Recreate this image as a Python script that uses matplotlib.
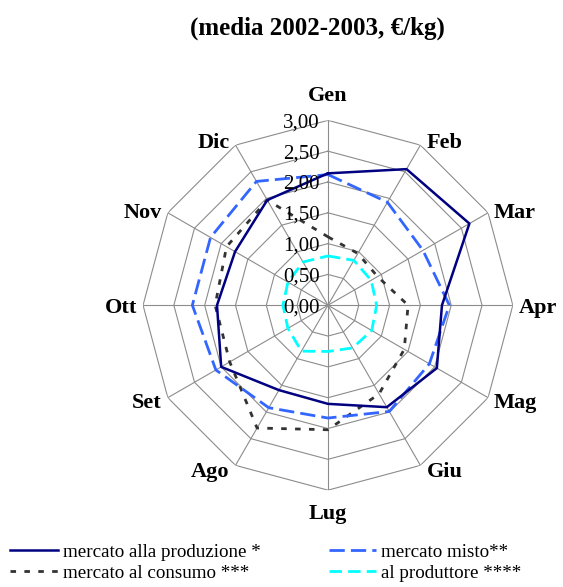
import numpy as np
import matplotlib
matplotlib.use("Agg")
import matplotlib.pyplot as plt
from matplotlib.lines import Line2D
from matplotlib.transforms import offset_copy

plt.rcParams['font.family'] = ['Liberation Serif', 'DejaVu Serif']

mesi = ['Gen', 'Feb', 'Mar', 'Apr', 'Mag', 'Giu', 'Lug', 'Ago', 'Set', 'Ott', 'Nov', 'Dic']
produzione = [2.14, 2.55, 2.65, 1.85, 2.04, 1.91, 1.60, 1.59, 2.00, 1.80, 1.74, 1.97]
misto = [2.12, 1.93, 1.78, 1.97, 1.90, 1.99, 1.83, 1.92, 2.10, 2.20, 2.20, 2.32]
consumo = [1.11, 0.97, 0.93, 1.30, 1.43, 1.66, 2.02, 2.30, 1.84, 1.83, 1.90, 1.97]
produttore = [0.80, 0.84, 0.81, 0.79, 0.82, 0.80, 0.75, 0.86, 0.75, 0.73, 0.75, 0.81]
etichette = ['mercato alla produzione *', 'mercato al consumo ***',
             'mercato misto**', 'al produttore ****']
livelli = [0.0, 0.5, 1.0, 1.5, 2.0, 2.5, 3.0]

n = len(mesi)
theta = np.arange(n) * 2 * np.pi / n
theta_c = np.append(theta, theta[0])

def chiudi(v):
    return np.append(v, v[0])

stile_prod = dict(color='#000080', lw=1.8)
stile_cons = dict(color='#333333', lw=2.0, dashes=(2, 3))
stile_misto = dict(color='#3366FF', lw=2.0, dashes=(5.5, 2.2))
stile_produt = dict(color='#00FFFF', lw=2.0, dashes=(4.5, 2.2))

fig = plt.figure(figsize=(5.63, 5.87), dpi=100)
ax = fig.add_axes([0.254, 0.165, 0.657, 0.630], projection='polar')
ax.set_theta_zero_location('N')
ax.set_theta_direction(-1)
ax.set_ylim(0, 3)
ax.set_xticks(theta)
ax.set_xticklabels([])
ax.set_yticks([])
ax.spines['polar'].set_visible(False)
ax.grid(False)
ax.patch.set_alpha(0)

# griglia poligonale
grid_col = '#8c8c8c'
for r in livelli[1:]:
    ax.plot(theta_c, [r] * (n + 1), color=grid_col, lw=0.8, zorder=1)
for t in theta:
    ax.plot([t, t], [0, 3], color=grid_col, lw=0.8, zorder=1)

ax.plot(theta_c, chiudi(produttore), zorder=3, **stile_produt)
ax.plot(theta_c, chiudi(consumo), zorder=3, **stile_cons)
ax.plot(theta_c, chiudi(misto), zorder=3, **stile_misto)
ax.plot(theta_c, chiudi(produzione), zorder=4, **stile_prod)

trans = offset_copy(ax.transData, fig=fig, x=-8, y=0, units='dots')
for r in livelli:
    ax.text(0, r, f"{r:.2f}".replace('.', ','), transform=trans,
            ha='right', va='center_baseline', fontsize=15, zorder=5)

# etichette dei mesi accanto ai vertici esterni
for t, m in zip(theta, mesi):
    s, c = np.sin(t), np.cos(t)
    if abs(s) < 0.01:
        ha = 'center'
        va = 'bottom' if c > 0 else 'top'
        dx, dy = 0, 14 * np.sign(c)
    else:
        ha = 'left' if s > 0 else 'right'
        va = 'center_baseline'
        dx, dy = 6 * np.sign(s), 5 * c
    tr = offset_copy(ax.transData, fig=fig, x=dx, y=dy, units='dots')
    ax.text(t, 3, m, transform=tr, ha=ha, va=va, fontsize=16, fontweight='bold')

fig.text(0.563, 0.952, '(media 2002-2003, €/kg)', ha='center', va='center',
         fontsize=18, fontweight='bold')

handles = [
    Line2D([], [], **stile_prod),
    Line2D([], [], **stile_cons),
    Line2D([], [], **stile_misto),
    Line2D([], [], **stile_produt),
]
fig.legend(handles, etichette, ncol=2, loc='upper left', bbox_to_anchor=(0.0178, 0.074),
           frameon=False, fontsize=13.7, handlelength=2.5, handletextpad=0.26,
           columnspacing=3.6, labelspacing=0.2, borderaxespad=0, borderpad=0)

fig.savefig('out.png', dpi=100)
